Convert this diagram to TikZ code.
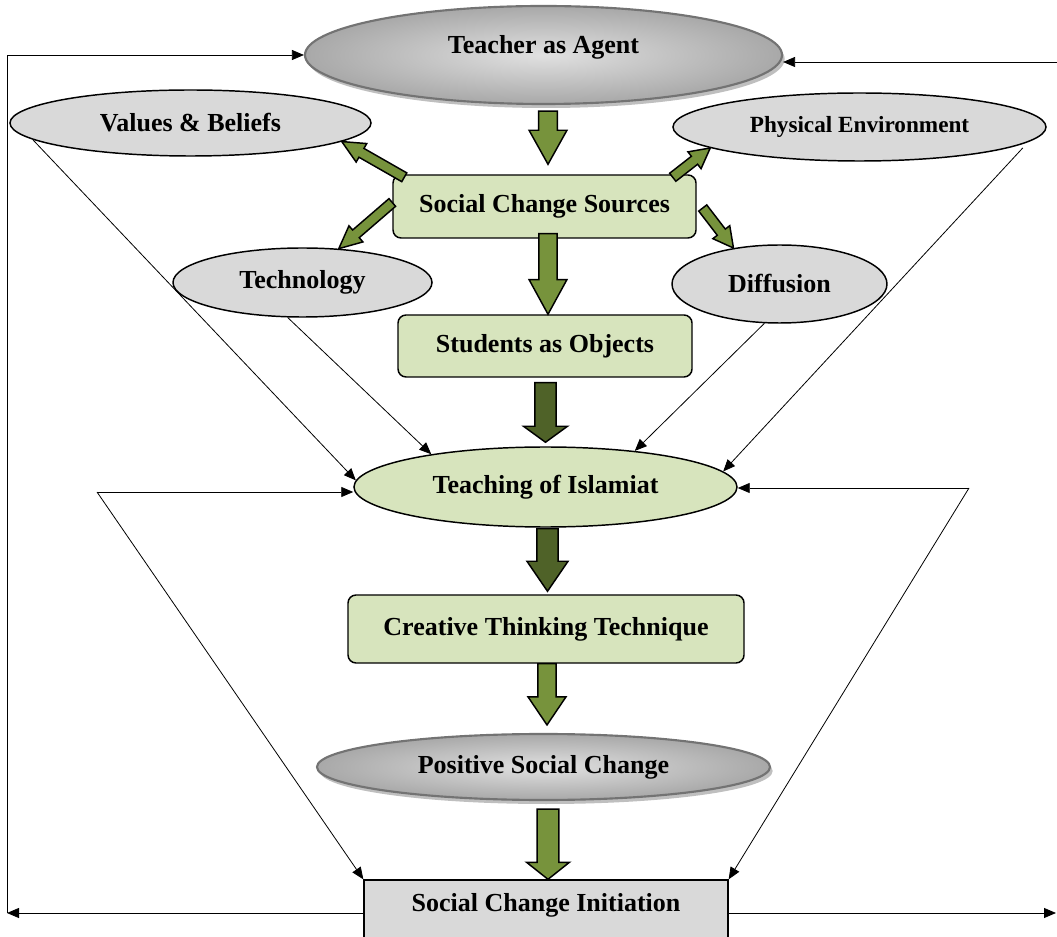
\documentclass[tikz,border=0pt]{standalone}
\usepackage{fontspec}
\setmainfont{Liberation Serif}
\usetikzlibrary{shapes.geometric,arrows.meta,calc,shadows}

\definecolor{olivelt}{HTML}{77933C}
\definecolor{olivedk}{HTML}{4F6228}
\definecolor{boxgreen}{HTML}{D7E4BD}
\definecolor{ovalgray}{HTML}{D9D9D9}

\tikzset{
  lbl/.style={font=\bfseries\fontsize{19.5}{22}\selectfont, inner sep=0pt},
  greybub/.style={lbl, ellipse, draw, line width=1.1pt, fill=ovalgray},
  shadebub/.style={lbl, ellipse, draw=black!55, line width=1.6pt, inner color=black!12, outer color=black!34,
    drop shadow={shadow xshift=2pt, shadow yshift=-3pt, fill=black!25, opacity=1}},
  greenbox/.style={lbl, rectangle, rounded corners=6pt, draw, line width=1.1pt, fill=boxgreen},
  thinarr/.style={-{Triangle[length=9pt,width=7.5pt]}, line width=0.6pt},
}

% fat arrow: tail, tip, half shaft, half head, head length, fill
\newcommand{\blockarrow}[6]{%
  \coordinate (ba) at (#1);
  \coordinate (bb) at (#2);
  \filldraw[fill=#6, draw=black, line width=1.1pt, line join=miter]
    ($(ba)!#3!90:(bb)$) -- ($(bb)!#5!(ba)!#3!-90:(ba)$) -- ($(bb)!#5!(ba)!#4!-90:(ba)$)
    -- (bb) -- ($(bb)!#5!(ba)!#4!90:(ba)$) -- ($(bb)!#5!(ba)!#3!90:(ba)$)
    -- ($(ba)!#3!-90:(bb)$) -- cycle;
}

\begin{document}
\begin{tikzpicture}[x=0.75pt,y=-0.75pt]
\clip (0,0) rectangle (1057,937);

%Shape: Ellipse
\node (teacher) [shadebub, minimum width=357.75pt, minimum height=73.5pt, text height=14pt, text depth=16pt] at (543.5,55) {Teacher as Agent};
%Shape: Ellipse
\node (values) [greybub, minimum width=270.75pt, minimum height=49.5pt] at (190.5,123) {Values \& Beliefs};
%Shape: Ellipse
\node (phys) [greybub, minimum width=279.75pt, minimum height=51pt, font=\bfseries\fontsize{17.4}{20}\selectfont] at (859.5,127) {Physical Environment};
%Shape: Rounded Rect
\node (scs) [greenbox, minimum width=227.25pt, minimum height=47.25pt] at (544.5,206.5) {Social Change Sources};
%Shape: Ellipse
\node (tech) [greybub, minimum width=194.25pt, minimum height=51.75pt] at (302.5,282.5) {Technology};
%Shape: Ellipse
\node (diff) [greybub, minimum width=161.25pt, minimum height=58.5pt] at (779.5,284) {Diffusion};
%Shape: Rounded Rect
\node (stud) [greenbox, minimum width=220.5pt, minimum height=46.5pt] at (545,346) {Students as Objects};
%Shape: Ellipse
\node (teach) [greybub, fill=boxgreen, minimum width=287.25pt, minimum height=60pt] at (545.5,487) {Teaching of Islamiat};
%Shape: Rounded Rect
\node (ctt) [greenbox, minimum width=297pt, minimum height=51pt] at (546,629) {Creative Thinking Technique};
%Shape: Ellipse
\node (pos) [shadebub, minimum width=339.75pt, minimum height=49.5pt] at (543.5,767) {Positive Social Change};
%Shape: Rectangle
\node (sci) [lbl, rectangle, draw, line width=1pt, fill=ovalgray, minimum width=273pt, minimum height=49.5pt, text height=14pt, text depth=16pt] at (546,913) {Social Change Initiation};

% fat arrows down the middle
\blockarrow{$(teacher.south)+(4.5,6)$}{$(scs.north)+(3.5,-10)$}{7.1pt}{14.2pt}{25.5pt}{olivelt}
\blockarrow{$(scs.south)+(3.5,-5)$}{$(stud.north)+(3,0)$}{6.8pt}{14.2pt}{26pt}{olivelt}
\blockarrow{$(stud.south)+(0.5,5)$}{$(teach.north)+(0,-4)$}{7.9pt}{16.5pt}{12pt}{olivedk}
\blockarrow{$(teach.south)+(2,1)$}{$(ctt.north)+(1.5,-3)$}{7.9pt}{15.4pt}{22.5pt}{olivedk}
\blockarrow{$(ctt.south)+(1,0)$}{$(pos.north)+(3.5,-8)$}{6.8pt}{14.2pt}{21pt}{olivelt}
\blockarrow{$(pos.south)+(4.5,8)$}{$(sci.north)+(2,0)$}{8.2pt}{16.1pt}{12.8pt}{olivelt}

% fat arrows out of the sources box
\blockarrow{$(scs.north west)+(12,3)$}{values.-7}{3.8pt}{8pt}{17pt}{olivelt}
\blockarrow{$(scs.west)+(0,-4)$}{tech.43}{3.8pt}{8pt}{17pt}{olivelt}
\blockarrow{$(scs.north east)+(-24,3)$}{phys.188}{3.8pt}{8pt}{15pt}{olivelt}
\blockarrow{$(scs.east)+(6,1.5)$}{diff.142}{3.8pt}{8pt}{15pt}{olivelt}

% thin arrows into teaching
\draw[thinarr] (values.186) -- (teach.178);
\draw[thinarr] (tech.247) -- (teach.164);
\draw[thinarr] ($(phys.-8)+(14,0)$) -- (teach.5);
\draw[thinarr] (diff.249) -- (teach.22);

\coordinate (lsplit) at (97,492);
\coordinate (rsplit) at (969,488);
\draw[thinarr] (lsplit) -- (lsplit -| teach.west);
\draw[thinarr] (lsplit) -- (sci.north west);
\draw[thinarr] (rsplit) -- (rsplit -| teach.east);
\draw[thinarr] (rsplit) -- (sci.north east);

% outer loop
\coordinate (tl) at (7,55);
\coordinate (bl) at (7,913);
\coordinate (tr) at (1057,62);
\coordinate (br) at (1056,913);
\draw[thinarr] (sci.west) -- (bl);
\draw[thinarr] (bl) -- (tl) -- (teacher.west);
\draw[thinarr] (tr) -- (tr -| teacher.east);
\draw[thinarr] (sci.east) -- (br);

\end{tikzpicture}
\end{document}
